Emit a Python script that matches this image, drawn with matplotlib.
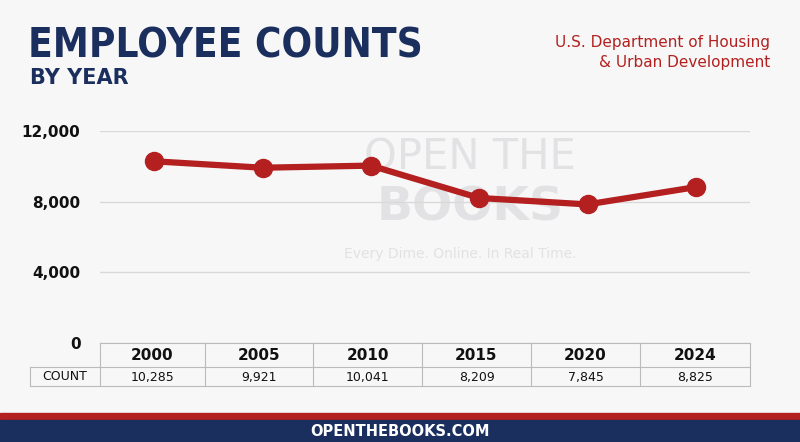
import matplotlib
matplotlib.use("Agg")
import matplotlib.pyplot as plt
from matplotlib.patches import Rectangle

years = ["2000", "2005", "2010", "2015", "2020", "2024"]
counts = [10285, 9921, 10041, 8209, 7845, 8825]
count_labels = ["10,285", "9,921", "10,041", "8,209", "7,845", "8,825"]
yticks = [0, 4000, 8000, 12000]
ytick_labels = ["0", "4,000", "8,000", "12,000"]

W, H = 800, 442
fig = plt.figure(figsize=(8, 4.42), dpi=100)
fig.patch.set_facecolor("#f7f7f8")
navy = "#1b2f5e"
red = "#b3201f"

def fx(px): return px / W
def fy(py): return 1 - py / H

# background / watermark layer
bg = fig.add_axes([0, 0, 1, 1], zorder=0)
bg.set_xlim(0, W); bg.set_ylim(H, 0); bg.axis("off")
bg.text(470, 158, "OPEN THE", fontsize=30, color="#e2e2e4", ha="center", va="center")
bg.text(470, 208, "BOOKS", fontsize=34, color="#e2e2e4", ha="center", va="center", fontweight="bold")
bg.text(460, 254, "Every Dime. Online. In Real Time.", fontsize=10, color="#e2e2e4", ha="center", va="center")

# plot axes: x 100..750, y 131..343
ax = fig.add_axes([fx(100), fy(343), fx(650), (343 - 131) / H], zorder=2)
ax.set_facecolor("none")
n = len(years)
xs = list(range(n))
ax.set_xlim(-0.5, n - 0.5)
ax.set_ylim(0, 12000)
ax.plot(xs, counts, color=red, lw=4.5, marker="o", ms=13, solid_capstyle="round")
ax.set_yticks(yticks)
ax.set_yticklabels(ytick_labels, fontsize=11, fontweight="bold", color="#111")
ax.set_xticks([])
ax.grid(axis="y", color="#d9d9d9", lw=1)
ax.set_axisbelow(True)
for s in ax.spines.values():
    s.set_visible(False)
ax.tick_params(axis="y", length=0, pad=14)

# table & decorations
tab = fig.add_axes([0, 0, 1, 1], zorder=5)
tab.set_facecolor("none")
tab.set_xlim(0, W); tab.set_ylim(H, 0); tab.axis("off")
edges = [100, 205, 313, 422, 531, 640, 750]
tab.plot([100, 750], [343, 343], color="#bbb", lw=0.8)
tab.plot([30, 750], [367, 367], color="#bbb", lw=0.8)
tab.plot([30, 750], [386, 386], color="#bbb", lw=0.8)
tab.plot([30, 30], [367, 386], color="#bbb", lw=0.8)
for e in edges:
    tab.plot([e, e], [343, 386], color="#bbb", lw=0.8)
tab.text(65, 377, "COUNT", fontsize=9, ha="center", va="center", color="#111")
for i in range(n):
    cx = (edges[i] + edges[i + 1]) / 2
    tab.text(cx, 356, years[i], fontsize=11, fontweight="bold", ha="center", va="center", color="#111")
    tab.text(cx, 377, count_labels[i], fontsize=9, ha="center", va="center", color="#111")

# footer
tab.add_patch(Rectangle((0, 413), W, 7, color=red))
tab.add_patch(Rectangle((0, 420), W, 22, color=navy))
tab.text(400, 431, "OPENTHEBOOKS.COM", fontsize=10.5, fontweight="bold", color="white", ha="center", va="center")

# titles
tab.text(28, 46, "EMPLOYEE COUNTS", fontsize=29, fontweight="black", color=navy, ha="left", va="center",
         family="DejaVu Sans", fontstretch="condensed")
tab.text(30, 78, "BY YEAR", fontsize=15, fontweight="bold", color=navy, ha="left", va="center")
tab.text(770, 42, "U.S. Department of Housing", fontsize=11, color=red, ha="right", va="center",
         family=["Liberation Sans Narrow", "DejaVu Sans"])
tab.text(770, 62, "& Urban Development", fontsize=11, color=red, ha="right", va="center",
         family=["Liberation Sans Narrow", "DejaVu Sans"])

fig.savefig("out.png", dpi=100, facecolor=fig.get_facecolor())
